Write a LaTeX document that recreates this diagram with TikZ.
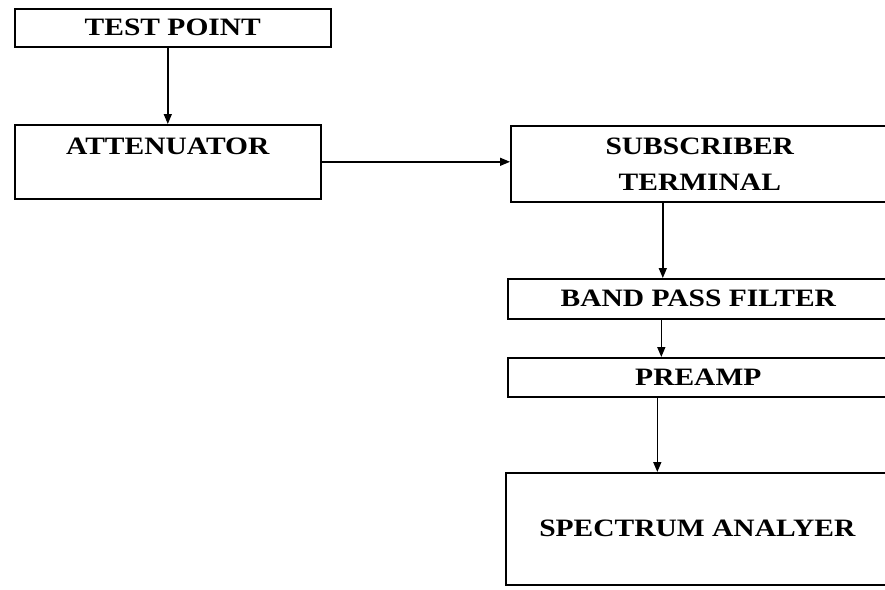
\documentclass[tikz,border=0pt]{standalone}
\usepackage{fontspec}
\setmainfont{Liberation Serif}[FakeStretch=1.18]
\usepackage{tikz}
\usetikzlibrary{arrows.meta, positioning}

\begin{document}
\begin{tikzpicture}[x=1pt, y=-1pt,
block/.style={rectangle, draw=black, line width=1.6pt, inner sep=0pt, font=\fontsize{25}{36}\selectfont\bfseries, align=center},
link/.style={-{Triangle[length=10pt,width=8pt]}, line width=1.5pt}
]
	\useasboundingbox (0,0) rectangle (885,589);
	\node[block, anchor=north west, minimum width=316pt, minimum height=38pt] (tp) at (14,8) {TEST POINT};
	\node[block, anchor=north west, minimum width=306pt, text height=29.5pt, text depth=44.5pt] (att) at (14,124) {ATTENUATOR};
	\node[block, anchor=north west, minimum width=378pt, minimum height=76pt] (sub) at (510,125) {SUBSCRIBER\\TERMINAL};
	\node[block, anchor=north west, minimum width=381pt, minimum height=40pt] (bpf) at (507,278) {BAND PASS FILTER};
	\node[block, anchor=north west, minimum width=381pt, minimum height=39pt] (pre) at (507,357) {PREAMP};
	\node[block, anchor=north west, minimum width=383pt, minimum height=112pt] (sa) at (505,472) {SPECTRUM ANALYER};
	\draw[link] (tp.south -| att.north) -- (att.north);
	\draw[link] (att.east) -- (att.east -| sub.west);
	\draw[link] ([xshift=-37pt]sub.south) -- ([xshift=-37pt]sub.south |- bpf.north);
	\draw[link] ([xshift=-37pt]bpf.south) -- ([xshift=-37pt]bpf.south |- pre.north);
	\draw[link] ([xshift=-41pt]pre.south) -- ([xshift=-41pt]pre.south |- sa.north);
\end{tikzpicture}
\end{document}
